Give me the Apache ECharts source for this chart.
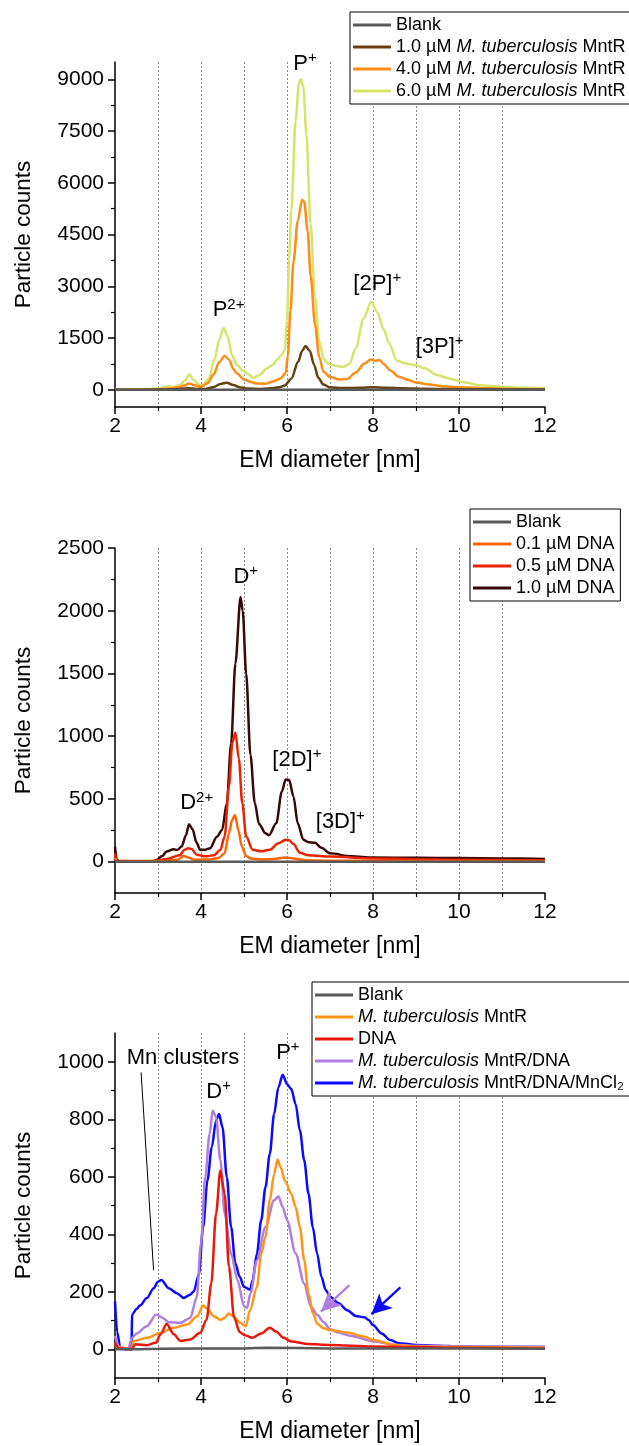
<!DOCTYPE html>
<html><head><meta charset="utf-8">
<script src="https://cdn.jsdelivr.net/npm/echarts@6/dist/echarts.min.js"></script>
<style>html,body{margin:0;padding:0;background:#fff}#c{width:629px;height:1446px}</style>
</head><body><div id="c"></div>
<script>
// ---------- DATA (x = EM diameter [nm], y = particle counts) ----------
// Panel 1: MntR titration
const p1Names = ['Blank', '1.0 µM M. tuberculosis MntR', '4.0 µM M. tuberculosis MntR', '6.0 µM M. tuberculosis MntR'];
const p1Blank = [[2,0],[4,0],[6,0],[8,0],[10,0],[12,0]];
const p1Mntr10 = [[2,0],[2.5,0],[3,5],[3.4,15],[3.7,45],[3.9,25],[4.1,25],[4.3,80],[4.45,170],[4.6,205],[4.75,140],[4.9,70],[5.1,35],[5.4,25],[5.7,50],[5.85,80],[5.95,126],[6.1,322],[6.26,810],[6.35,1120],[6.43,1270],[6.53,1130],[6.63,720],[6.73,340],[6.85,150],[7.0,70],[7.3,50],[7.7,55],[8.0,70],[8.3,60],[8.7,45],[9.2,30],[10,15],[11,8],[12,5]];
const p1Mntr40 = [[2,0],[2.5,3],[3,12],[3.3,40],[3.5,80],[3.6,120],[3.72,180],[3.85,130],[4.0,85],[4.15,190],[4.3,450],[4.42,800],[4.55,975],[4.65,880],[4.75,600],[4.84,470],[5.0,300],[5.15,225],[5.3,180],[5.5,176],[5.7,250],[5.84,322],[5.97,480],[6.02,1000],[6.08,2300],[6.15,3700],[6.25,4900],[6.35,5500],[6.4,5450],[6.48,4600],[6.55,3300],[6.65,1900],[6.75,950],[6.85,520],[7.0,370],[7.2,300],[7.4,310],[7.6,500],[7.8,760],[7.95,880],[8.05,840],[8.15,860],[8.25,750],[8.4,560],[8.6,380],[8.8,290],[9.0,210],[9.3,150],[9.6,105],[10.0,75],[10.5,50],[11,30],[12,15]];
const p1Mntr60 = [[2,0],[2.5,5],[2.8,25],[3.0,40],[3.15,70],[3.25,110],[3.35,75],[3.5,130],[3.62,260],[3.73,440],[3.82,300],[3.95,150],[4.05,130],[4.18,320],[4.32,900],[4.42,1450],[4.53,1790],[4.62,1550],[4.72,1000],[4.84,712],[4.99,540],[5.1,450],[5.22,342],[5.35,420],[5.53,615],[5.65,700],[5.76,860],[5.88,1005],[5.95,1150],[6.0,2000],[6.05,3800],[6.1,5200],[6.2,7800],[6.28,8900],[6.32,9000],[6.38,8800],[6.45,7400],[6.55,4800],[6.65,2700],[6.75,1400],[6.85,900],[6.95,760],[7.1,705],[7.3,660],[7.45,750],[7.6,1200],[7.78,2060],[7.96,2540],[8.1,2250],[8.24,1770],[8.38,1330],[8.55,850],[8.75,760],[9.0,710],[9.2,620],[9.5,420],[9.8,320],[10.1,220],[10.5,130],[11,90],[11.5,60],[12,48]];

// Panel 2: DNA titration
const p2Names = ['Blank', '0.1 µM DNA', '0.5 µM DNA', '1.0 µM DNA'];
const p2Blank = [[2,0],[4,0],[6,0],[8,0],[10,0],[12,0]];
const p2Dna01 = [[2,30],[2.05,0],[2.9,2],[3.2,8],[3.45,15],[3.6,45],[3.72,30],[3.85,15],[4.2,18],[4.4,28],[4.55,66],[4.65,225],[4.72,330],[4.79,372],[4.87,250],[4.95,120],[5.05,45],[5.15,25],[5.4,18],[5.7,22],[5.95,32],[6.15,25],[6.4,12],[7,8],[8,6],[10,5],[12,5]];
const p2Dna05 = [[2,66],[2.04,5],[2.9,5],[3.2,22],[3.5,50],[3.62,95],[3.7,107],[3.78,100],[3.9,55],[4.1,42],[4.3,50],[4.45,93],[4.55,200],[4.65,600],[4.73,950],[4.8,1030],[4.88,820],[4.96,465],[5.05,200],[5.2,95],[5.4,82],[5.6,95],[5.8,146],[5.97,175],[6.05,170],[6.15,140],[6.3,70],[6.5,50],[7,40],[8,25],[9,20],[10,15],[12,10]];
const p2Dna10 = [[2,120],[2.04,15],[2.1,0],[2.85,0],[2.97,14],[3.1,45],[3.2,80],[3.36,99],[3.45,93],[3.55,120],[3.65,210],[3.72,298],[3.8,260],[3.9,150],[3.98,93],[4.1,95],[4.21,107],[4.37,199],[4.49,252],[4.6,465],[4.7,940],[4.8,1580],[4.92,2110],[4.97,2000],[5.05,1500],[5.15,850],[5.25,470],[5.35,300],[5.5,226],[5.58,210],[5.75,305],[5.88,560],[5.97,655],[6.05,650],[6.15,520],[6.25,305],[6.38,175],[6.5,155],[6.65,150],[6.8,110],[7.0,66],[7.5,42],[8,32],[9,30],[10,28],[11,25],[12,22]];

// Panel 3: complexes
const p3Names = ['Blank', 'M. tuberculosis MntR', 'DNA', 'M. tuberculosis MntR/DNA', 'M. tuberculosis MntR/DNA/MnCl₂'];
const p3Blank = [[2,0],[2.4,0],[3,2],[5,3],[5.5,5],[7,3],[9,3],[12,2]];
const p3Mntr = [[2,20],[2.1,5],[2.38,0],[2.43,29],[2.74,40],[3.06,57],[3.37,75],[3.68,86],[3.91,115],[4.05,152],[4.15,140],[4.3,115],[4.45,102],[4.55,110],[4.65,124],[4.75,115],[4.91,92],[5.04,80],[5.14,136],[5.3,216],[5.4,333],[5.5,391],[5.6,518],[5.7,610],[5.78,659],[5.85,634],[5.95,587],[6.1,541],[6.2,495],[6.3,425],[6.4,310],[6.5,194],[6.6,125],[6.7,90],[6.85,73],[7.0,67],[7.4,58],[7.8,44],[8.0,32],[8.5,15],[9,10],[10,8],[12,5]];
const p3Dna = [[2,21],[2.1,3],[2.39,0],[2.47,17],[2.74,14],[2.95,23],[3.06,52],[3.2,88],[3.37,52],[3.52,29],[3.75,34],[3.98,57],[4.13,103],[4.24,230],[4.35,472],[4.45,622],[4.55,541],[4.65,287],[4.77,110],[4.9,60],[5.0,50],[5.2,40],[5.4,55],[5.6,75],[5.75,61],[5.92,40],[6.1,27],[6.5,18],[7,15],[8,10],[9,8],[10,5],[12,2]];
const p3MntrDna = [[2,46],[2.1,9],[2.3,0],[2.4,40],[2.5,55],[2.74,80],[2.96,121],[3.1,110],[3.25,94],[3.52,92],[3.75,109],[3.9,180],[4.0,368],[4.1,599],[4.2,749],[4.27,830],[4.35,807],[4.45,657],[4.55,472],[4.7,333],[4.85,240],[5.0,150],[5.07,144],[5.15,194],[5.3,310],[5.5,425],[5.7,518],[5.8,532],[5.9,495],[6.0,449],[6.2,333],[6.4,229],[6.55,150],[6.7,120],[6.85,95],[7.0,70],[7.2,58],[7.5,46],[8.0,28],[8.5,16],[9,12],[10,10],[11,10],[12,10]];
const p3MntrDnaMn = [[2,167],[2.05,60],[2.12,8],[2.23,0],[2.38,0],[2.4,121],[2.5,140],[2.58,152],[2.74,178],[2.9,212],[3.0,235],[3.08,241],[3.25,212],[3.44,195],[3.6,178],[3.75,190],[3.83,201],[3.95,260],[4.05,425],[4.15,587],[4.25,703],[4.35,795],[4.42,818],[4.5,772],[4.6,599],[4.7,425],[4.8,298],[4.9,252],[5.0,217],[5.14,207],[5.2,240],[5.3,333],[5.4,449],[5.5,564],[5.6,680],[5.7,818],[5.8,911],[5.9,955],[6.0,922],[6.1,905],[6.2,853],[6.3,761],[6.4,657],[6.5,541],[6.6,425],[6.7,333],[6.8,252],[6.9,206],[7.0,183],[7.2,160],[7.4,136],[7.6,116],[7.8,111],[7.9,102],[8.0,84],[8.2,55],[8.4,32],[8.6,21],[9.0,15],[9.5,12],[10,10],[11,8],[12,7]];

// Axis ticks
const y1Labels = [0,1500,3000,4500,6000,7500,9000];
const y1Minor = [750,2250,3750,5250,6750,8250];
const y2Labels = [0,500,1000,1500,2000,2500];
const y2Minor = [250,750,1250,1750,2250];
const y3Labels = [0,200,400,600,800,1000];
const y3Minor = [100,300,500,700,900];

// Annotations (text, x nm, y counts)
const ann1 = [['{b|P}{s|+}',6.42,9450],['{b|P}{s|2+}',4.64,2300],['{b|[2P]}{s|+}',8.1,3070],['{b|[3P]}{s|+}',9.55,1240]];
const ann2 = [['{b|D}{s|+}',5.04,2269],['{b|D}{s|2+}',3.9,464],['{b|[2D]}{s|+}',6.23,809],['{b|[3D]}{s|+}',7.24,318]];
const ann3 = [['{b|Mn clusters}',3.58,1013],['{b|D}{s|+}',4.41,894],['{b|P}{s|+}',6.02,1032]];
const mnLine = [[2.607,963],[2.897,275]];
const purpleArrow = [[7.45,223],[6.79,131]];
const blueArrow = [[8.636,215],[7.963,122]];

// ---------- CHART ----------
const FONT = '"Liberation Sans", Arial, Helvetica, sans-serif';
const GRID_L = 115, GRID_W = 430, GRID_H = 345;
const tops = [62, 548, 1033];
const ranges = [[-500,9500],[-250,2500],[-100,1100]];
const labelSets = [y1Labels, y2Labels, y3Labels];
const minorSets = [y1Minor, y2Minor, y3Minor];

const richAnn = {
  b: {fontSize: 22, fontFamily: FONT, color: '#000', lineHeight: 27},
  s: {fontSize: 15, fontFamily: FONT, color: '#000', verticalAlign: 'top', lineHeight: 15}
};

const grid = tops.map(t => ({left: GRID_L, top: t, width: GRID_W, height: GRID_H, containLabel: false}));
const gridLine = {color: '#8a8a8a', width: 1, type: [2, 2]};
const xAxis = tops.map((t, i) => ({
  type: 'value', gridIndex: i, min: 2, max: 12, interval: 2, position: 'bottom',
  name: 'EM diameter [nm]', nameLocation: 'middle', nameGap: 42,
  nameTextStyle: {fontSize: 23, fontFamily: FONT, color: '#000'},
  axisLine: {show: true, onZero: false, lineStyle: {color: '#000', width: 1.5}},
  axisTick: {show: true, inside: false, length: 7, lineStyle: {color: '#000', width: 1.5}},
  minorTick: {show: true, splitNumber: 2, length: 4, lineStyle: {color: '#000', width: 1.2}},
  axisLabel: {fontSize: 21, fontFamily: FONT, color: '#000', margin: 9, formatter: v => String(v)},
  splitLine: {show: true, showMinLine: false, showMaxLine: false, lineStyle: gridLine},
  minorSplitLine: {show: true, lineStyle: gridLine}
}));
const yAxis = [];
tops.forEach((t, i) => {
  yAxis.push({
    type: 'value', gridIndex: i, min: ranges[i][0], max: ranges[i][1], position: 'left',
    name: 'Particle counts', nameLocation: 'middle', nameGap: 80, nameRotate: 90,
    nameTextStyle: {fontSize: 22.5, fontFamily: FONT, color: '#000'},
    axisLine: {show: true, onZero: false, lineStyle: {color: '#000', width: 1.5}},
    axisTick: {show: true, length: 7, customValues: labelSets[i], lineStyle: {color: '#000', width: 1.5}},
    axisLabel: {fontSize: 21, fontFamily: FONT, color: '#000', margin: 11, customValues: labelSets[i], formatter: v => String(v)},
    splitLine: {show: false}
  });
});
tops.forEach((t, i) => {
  yAxis.push({
    type: 'value', gridIndex: i, min: ranges[i][0], max: ranges[i][1], position: 'left', offset: 0,
    axisLine: {show: false, onZero: false},
    axisTick: {show: true, length: 4, customValues: minorSets[i], lineStyle: {color: '#000', width: 1.2}},
    axisLabel: {show: false},
    splitLine: {show: false}
  });
});

function line(name, data, color, gi, extra) {
  return Object.assign({
    type: 'line', name, data, xAxisIndex: gi, yAxisIndex: gi,
    showSymbol: false, symbol: 'none', smooth: 0.3, smoothMonotone: 'x',
    lineStyle: {color, width: 2.5}, itemStyle: {color},
    clip: true, silent: true, animation: false
  }, extra || {});
}
function annPoints(list) {
  return {
    symbol: 'circle', symbolSize: 1, silent: true, animation: false,
    itemStyle: {color: 'rgba(0,0,0,0)'},
    label: {show: true, position: 'inside', color: '#000', rich: richAnn},
    data: list.map(a => ({coord: [a[1], a[2]], label: {formatter: a[0]}}))
  };
}
function arrowLine(pts, color, width, head) {
  return {
    silent: true, animation: false, label: {show: false},
    lineStyle: {color, width, type: 'solid'},
    emphasis: {disabled: true},
    data: [[
      {coord: pts[0], symbol: 'none'},
      {coord: pts[1], symbol: head ? 'arrow' : 'none', symbolSize: head ? [15, 20] : 0}
    ]]
  };
}

const series = [
  line(p1Names[3], p1Mntr60, '#d6e46a', 0),
  line(p1Names[2], p1Mntr40, '#ff8c14', 0),
  line(p1Names[1], p1Mntr10, '#66400e', 0),
  line(p1Names[0], p1Blank, '#595959', 0, {markPoint: annPoints(ann1)}),

  line(p2Names[3], p2Dna10, '#3a0808', 1),
  line(p2Names[2], p2Dna05, '#eb2200', 1),
  line(p2Names[1], p2Dna01, '#ff6400', 1),
  line(p2Names[0], p2Blank, '#595959', 1, {markPoint: annPoints(ann2)}),

  line(p3Names[4], p3MntrDnaMn, '#0a0aff', 2, {markLine: arrowLine(blueArrow, '#0a0aff', 2.4, true)}),
  line(p3Names[3], p3MntrDna, '#b07de0', 2, {markLine: arrowLine(purpleArrow, '#b07de0', 2.4, true)}),
  line(p3Names[1], p3Mntr, '#ff9418', 2),
  line(p3Names[2], p3Dna, '#e8180a', 2),
  line(p3Names[0], p3Blank, '#595959', 2, {markPoint: annPoints(ann3), markLine: arrowLine(mnLine, '#000', 1, false)})
];

function legend(left, top, names) {
  return {
    orient: 'vertical', left, top, padding: [4, 6, 4, 3],
    itemWidth: 38, itemHeight: 3, itemGap: 4, icon: 'rect',
    borderColor: '#000', borderWidth: 1, backgroundColor: '#fff',
    selectedMode: false, data: names,
    formatter: n => n.replace('M. tuberculosis', '{i|M. tuberculosis}'),
    textStyle: {fontSize: 18, lineHeight: 18, color: '#000', fontFamily: FONT,
      rich: {i: {fontStyle: 'italic', fontSize: 18, lineHeight: 18, color: '#000', fontFamily: FONT}}}
  };
}

const chart = echarts.init(document.getElementById('c'), null, {renderer: 'canvas'});
chart.setOption({
  animation: false,
  backgroundColor: '#fff',
  grid, xAxis, yAxis, series,
  legend: [legend(350, 12, p1Names), legend(470, 509, p2Names), legend(312, 982, p3Names)]
});
</script></body></html>
